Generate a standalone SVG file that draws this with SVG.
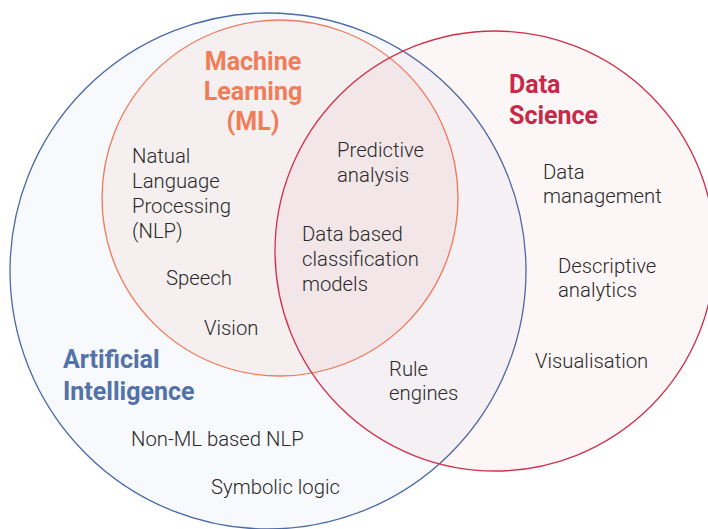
<svg xmlns="http://www.w3.org/2000/svg" width="708" height="529" viewBox="0 0 708 529">
<style>
.t{font-family:Roboto,"Liberation Sans",sans-serif;font-size:20.3px;font-weight:300;fill:#2a2a2a}
.h{font-family:Roboto,"Liberation Sans",sans-serif;font-size:25px;font-weight:700}
</style>
<rect width="708" height="529" fill="#ffffff"/>
<g id="ai">
<circle cx="268" cy="271" r="258" fill="#4a6fb0" fill-opacity="0.045" stroke="#4a6aa8" stroke-width="1.3"/>
</g>
<g id="ml">
<circle cx="280" cy="198" r="178" fill="#e8705a" fill-opacity="0.07" stroke="#f07a5a" stroke-width="1.3"/>
</g>
<g id="ds">
<circle cx="495" cy="251" r="220" fill="#d0304c" fill-opacity="0.045" stroke="#d0304c" stroke-width="1.3"/>
</g>
<g id="labels-ml">
<text class="h" fill="#f07c58" text-anchor="middle"><tspan x="253" y="70">Machine</tspan><tspan x="253" y="100">Learning</tspan><tspan x="253" y="130">(ML)</tspan></text>
<text class="t"><tspan x="132" y="163">Natual</tspan><tspan x="132" y="188">Language</tspan><tspan x="132" y="213">Processing</tspan><tspan x="132" y="238">(NLP)</tspan></text>
<text class="t" x="166" y="285">Speech</text>
<text class="t" x="204" y="335">Vision</text>
</g>
<g id="labels-overlap">
<text class="t"><tspan x="337" y="157">Predictive</tspan><tspan x="337" y="182">analysis</tspan></text>
<text class="t"><tspan x="302" y="241">Data based</tspan><tspan x="302" y="266">classification</tspan><tspan x="302" y="291">models</tspan></text>
<text class="t"><tspan x="389" y="376">Rule</tspan><tspan x="389" y="400">engines</tspan></text>
</g>
<g id="labels-ai">
<text class="h" fill="#5272a8"><tspan x="63" y="368">Artificial</tspan><tspan x="63" y="400">Intelligence</tspan></text>
<text class="t" x="131" y="446">Non-ML based NLP</text>
<text class="t" x="211" y="494">Symbolic logic</text>
</g>
<g id="labels-ds">
<text class="h" fill="#c8284a"><tspan x="509" y="93">Data</tspan><tspan x="509" y="124">Science</tspan></text>
<text class="t"><tspan x="543" y="179">Data</tspan><tspan x="543" y="203">management</tspan></text>
<text class="t"><tspan x="558" y="273">Descriptive</tspan><tspan x="558" y="297">analytics</tspan></text>
<text class="t" x="535" y="368">Visualisation</text>
</g>
<g id="connectors"/>
</svg>
